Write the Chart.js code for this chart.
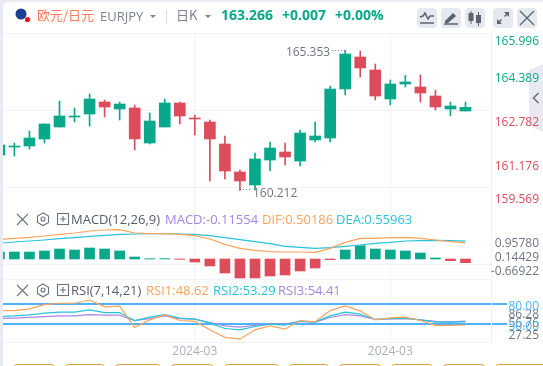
<!DOCTYPE html>
<html><head><meta charset="utf-8">
<script src="https://cdn.jsdelivr.net/npm/chart.js@4/dist/chart.umd.min.js"></script>
<style>
html,body{margin:0;padding:0;background:#e8ebf1;overflow:hidden}
#card{position:absolute;left:3px;top:2px;width:540px;height:364px;background:#fff;border-top-left-radius:5px}
#stage{position:absolute;left:0;top:0;width:543px;height:366px;font-family:"Open Sans","Noto Sans CJK SC",sans-serif}
canvas{position:absolute;left:0;top:0}
.t{position:absolute;white-space:nowrap;line-height:18px;height:18px;font-size:13px}
.btn{position:absolute;top:8px;width:20px;height:20px;background:#e6e8ef;border-radius:4px}
.btn svg,.ic{position:absolute;left:0;top:0}
.tab{position:absolute;top:364px;height:6px;box-sizing:border-box;border:1px solid #dda040;border-radius:4px 4px 0 0;background:#fff}
</style></head><body>
<div id="card"></div>
<div id="stage">
<svg class="ic" width="543" height="140"><path d="M529 70L543 64V132L529 126z" fill="#e9eaf1"/><path d="M538.500 93l-5 5 5 5" fill="none" stroke="#6c7280" stroke-width="1.600"/></svg>
<canvas id="c" width="543" height="366"></canvas>
<svg class="ic" width="32" height="26"><circle cx="21" cy="14" r="5.5" fill="#1c3f94"/><circle cx="27.5" cy="19.5" r="2.6" fill="#f0141e"/></svg>
<div class="t" style="left:37px;top:6px;color:#fb7d5b;font-family:'Noto Sans CJK SC'">欧元/日元</div>
<div class="t" style="left:100px;top:7px;color:#7c8294">EURJPY</div>
<svg class="ic" width="220" height="30"><path d="M150 15h6l-3 3z M205 15h6l-3 3z" fill="#7c8294"/><path d="M166.500 10v13" stroke="#d5d7de"/></svg>
<div class="t" style="left:176px;top:6px;color:#7c8294;font-family:'Noto Sans CJK SC'">日K</div>
<div class="t" style="left:221px;top:6px;color:#0aa88a;font-weight:700;font-size:14px">163.266</div>
<div class="t" style="left:282px;top:6px;color:#0aa88a;font-weight:700;font-size:14px">+0.007</div>
<div class="t" style="left:335px;top:6px;color:#0aa88a;font-weight:700;font-size:14px">+0.00%</div>
<div class="btn" style="left:417px"><svg width="20" height="20" fill="none" stroke="#5c6270" stroke-width="1.500"><path d="M3 9l3-1 2-3 3 6 2-3h4"/><path d="M3 15h14"/></svg></div>
<div class="btn" style="left:441px"><svg width="20" height="20"><path d="M4 13l8-8 3 3-8 7H4z" fill="#5c6270"/><path d="M3 16h14" stroke="#5c6270" stroke-width="1.500"/></svg></div>
<div class="btn" style="left:465px"><svg width="20" height="20" fill="#5c6270"><rect x="3.500" y="5" width="5" height="8"/><rect x="11" y="7" width="5" height="8"/><path d="M5.500 3h1v13h-1zM13 4h1v14h-1z"/></svg></div>
<div class="btn" style="left:493px"><svg width="20" height="20" fill="#5c6270"><path d="M11 4h5v5l-2-2-2 2-1-1 2-2zM9 16H4v-5l2 2 2-2 1 1-2 2z"/></svg></div>
<div class="btn" style="left:517px"><svg width="20" height="20" stroke="#5c6270" stroke-width="1.300"><path d="M3 3l14 14M17 3L3 17"/></svg></div>

<svg class="ic" width="80" height="300"><g fill="none" stroke="#6c7280" stroke-width="1.100">
<path d="M17 214l11 11M28 214l-11 11"/><path d="M43 212.800l5.500 3.200v6.400l-5.500 3.200-5.500-3.200v-6.400z"/><circle cx="43" cy="219" r="2"/><rect x="57.500" y="213.500" width="11" height="11"/><path d="M60 219h6M63 216v6"/>
<path d="M17 285l11 11M28 285l-11 11"/><path d="M43 284l5.500 3.200v6.400l-5.500 3.200-5.500-3.200v-6.400z"/><circle cx="43" cy="290" r="2"/><rect x="57.500" y="284.500" width="11" height="11"/><path d="M60 290h6M63 287v6"/></g></svg>
<div class="t" style="left:71px;top:210px;color:#555b6b">MACD(12,26,9)</div>
<div class="t" style="left:165px;top:210px;color:#a486e6">MACD:-0.11554</div>
<div class="t" style="left:262px;top:210px;color:#f9a45c">DIF:0.50186</div>
<div class="t" style="left:336px;top:210px;color:#27c3d8">DEA:0.55963</div>
<div class="t" style="left:71px;top:281px;color:#555b6b">RSI(7,14,21)</div>
<div class="t" style="left:146px;top:281px;color:#f9a45c">RSI1:48.62</div>
<div class="t" style="left:213px;top:281px;color:#27c3d8">RSI2:53.29</div>
<div class="t" style="left:278px;top:281px;color:#a486e6">RSI3:54.41</div>
<div class="tab" style="left:13px;width:42px"></div><div class="tab" style="left:65px;width:40px"></div>
<div class="tab" style="left:115px;width:46px"></div><div class="tab" style="left:171px;width:43px"></div>
<div class="tab" style="left:224px;width:55px"></div><div class="tab" style="left:289px;width:40px"></div>
<div class="tab" style="left:339px;width:42px"></div><div class="tab" style="left:391px;width:42px"></div>
<div class="tab" style="left:443px;width:42px"></div><div class="tab" style="left:495px;width:60px"></div>
</div>
<script>
const open_=[161.515,161.809,161.846,162.103,162.544,162.911,163.021,163.462,163.205,163.242,161.956,162.544,163.425,162.874,162.727,161.919,160.891,160.414,161.332,161.626,161.295,162.066,162.140,163.939,165.115,164.637,163.572,164.123,164.013,163.682,163.205,163.131];
const close_=[161.883,161.846,162.140,162.654,162.948,162.948,163.572,163.278,163.388,162.103,162.764,163.425,162.948,162.838,162.103,160.928,160.561,161.369,161.773,161.442,162.323,162.213,163.939,165.225,164.711,163.682,164.123,164.196,163.792,163.278,163.315,163.266];
const high_=[161.956,161.956,162.397,162.654,163.499,163.242,163.756,163.535,163.462,163.352,163.058,163.572,163.462,162.984,162.801,162.213,160.965,161.589,161.993,161.956,162.434,162.727,164.050,165.353,165.330,164.857,164.270,164.437,164.454,163.903,163.462,163.462];
const low_=[161.442,161.479,161.736,161.956,162.544,162.727,162.580,162.911,162.801,161.699,161.919,162.544,162.654,162.250,160.561,160.634,160.212,160.230,160.928,161.148,161.111,161.993,161.993,163.719,164.380,163.535,163.352,164.013,163.462,163.168,162.948,163.131];
const macdBars=[.218,.218,.218,.250,.312,.281,.343,.312,.250,.062,.010,.010,-.010,-.094,-.218,-.437,-.593,-.593,-.530,-.499,-.374,-.281,-.021,.281,.416,.312,.281,.250,.187,.031,-.052,-.11554];
const dif=[.614,.645,.676,.718,.770,.811,.874,.905,.915,.811,.790,.790,.770,.728,.624,.458,.333,.270,.229,.218,.218,.208,.333,.520,.645,.645,.666,.676,.645,.593,.541,.50186];
const dea=[.489,.530,.562,.593,.634,.666,.707,.738,.770,.780,.790,.790,.780,.770,.728,.666,.603,.541,.478,.395,.364,.333,.354,.395,.437,.489,.520,.562,.572,.582,.572,.55963];
const rsi1=[70.4,70.4,73,79.4,81.4,81.4,86.28,76,77,45,56.4,64,55.4,54,41.4,30,27.25,41.4,47.4,42.4,55.4,53.4,70.4,77.4,70,56.4,59.4,60.4,55.4,48,48,48.62];
const rsi2=[61.4,62.4,64,66.4,68,68,71.4,67.4,67.4,55.4,60.4,64.4,59,57.4,51.4,43.4,41.4,46.4,50,48.4,54.4,53,62.4,68,65,57,58.4,59,56.4,53,53,53.29];
const rsi3=[58.4,59,60,61.4,62.4,62.4,64.4,63.4,63.4,55.4,58.4,62.4,58.4,57.4,52.4,47.4,45.4,48,50.4,50,54,53,60,64.4,62.4,57,58,58.4,56.4,54,53.4,54.41];
const dateLabels=['2024-03','2024-03'];
const dateAt=[13,26];
const priceLabels=['165.996','164.389','162.782','161.176','159.569'];
const priceGrid=[165.996,164.389,162.782,161.176,159.569];
const priceLabelAt=[165.739,164.389,162.782,161.176,159.936];
const macdLabels=['0.95780','0.14429','-0.66922'];
const macdLabelAt=[.54,.103,-.343];
const rsiLabels=['86.28','56.76','27.25','80.00','50.00'];
const rsiLabelAt=[67.4,53.9,35,80,50];

const GREEN='#0aa88a',RED='#dc4c5a',GRID='#f2f3f7',TXT='#6f7484',BLUE='#4db2fb',FONT='"Open Sans",sans-serif';
const up=i=>close_[i]>=open_[i];
const idx=open_.map((_,i)=>i);
const col=c=>c.dataIndex===undefined?GREEN:(up(c.dataIndex)?GREEN:RED);
const barBase={grouped:false,yAxisID:'y',xAxisID:'x',borderWidth:0};
const lineBase={type:'line',order:1,borderWidth:1.2,pointRadius:0};
const datasets=[
 {...barBase,type:'bar',label:'Body',order:2,barThickness:11,backgroundColor:col,data:idx.map(i=>({x:i,y:[open_[i],close_[i]]}))},
 {...barBase,type:'bar',label:'Wick',order:3,barThickness:1,backgroundColor:col,data:idx.map(i=>({x:i,y:[low_[i],high_[i]]}))},
 {...barBase,type:'bar',label:'MACD',order:3,yAxisID:'yMacd',barThickness:10,backgroundColor:c=>macdBars[c.dataIndex]>=0?GREEN:RED,data:idx.map(i=>({x:i,y:macdBars[i]}))},
 {...lineBase,label:'DIF',yAxisID:'yMacd',borderColor:'#f9a45c',data:idx.map(i=>({x:i,y:dif[i]}))},
 {...lineBase,label:'DEA',yAxisID:'yMacd',borderColor:'#27c3d8',data:idx.map(i=>({x:i,y:dea[i]}))},
 {...lineBase,label:'RSI1',yAxisID:'yRsi',borderColor:'#f9a45c',data:idx.map(i=>({x:i,y:rsi1[i]}))},
 {...lineBase,label:'RSI2',yAxisID:'yRsi',borderColor:'#27c3d8',data:idx.map(i=>({x:i,y:rsi2[i]}))},
 {...lineBase,label:'RSI3',yAxisID:'yRsi',borderColor:'#a888e8',data:idx.map(i=>({x:i,y:rsi3[i]}))}
];
const setTicks=arr=>s=>{s.ticks=arr.map(v=>({value:v}));};
const fit48=s=>{s.width=48;};
const common={axis:'y',position:'right',stack:'panels',afterFit:fit48,border:{display:true,color:GRID}};
const tickBase={autoSkip:false,crossAlign:'far',labelOffset:2,font:{family:FONT,size:12}};

const hiLo={id:'hiLo',afterDatasetsDraw(ch){
  const g=ch.ctx,x=ch.scales.x,y=ch.scales.y;
  const hi=high_.indexOf(Math.max(...high_)),lo=low_.indexOf(Math.min(...low_));
  g.save();g.font='12px '+FONT;g.fillStyle=g.strokeStyle=TXT;g.textBaseline='middle';g.lineWidth=1;g.setLineDash([1,2]);
  const hx=x.getPixelForValue(hi),hy=y.getPixelForValue(high_[hi])-1;
  g.beginPath();g.moveTo(hx,Math.round(hy)+.5);g.lineTo(hx-14,Math.round(hy)+.5);g.stroke();
  g.textAlign='right';g.fillText(high_[hi].toFixed(3),hx-15,hy+3);
  const lx=x.getPixelForValue(lo),ly=y.getPixelForValue(low_[lo])-1;
  g.beginPath();g.moveTo(lx,Math.round(ly)+.5);g.lineTo(lx+11,Math.round(ly)+.5);g.stroke();
  g.textAlign='left';g.fillText(low_[lo].toFixed(3),lx+13,ly+4);
  g.restore();
}};

new Chart(document.getElementById('c'),{
 data:{datasets},
 plugins:[hiLo],
 options:{
  responsive:false,animation:false,events:[],
  layout:{padding:{left:3,top:33,right:4,bottom:0}},
  plugins:{legend:{display:false},tooltip:{enabled:false},title:{display:false}},
  scales:{
   x:{type:'linear',position:'bottom',offset:false,min:0.2427,max:32.696,afterBuildTicks:setTicks(dateAt),afterFit:s=>{s.height=24;},
      border:{display:true,color:GRID},grid:{color:GRID,drawTicks:false,offset:false},
      ticks:{autoSkip:false,maxRotation:0,color:'#aaaebf',font:{family:FONT,size:12},padding:2,callback:(v,i)=>dateLabels[i]}},
   y:{...common,stackWeight:175,min:159.569,max:165.996,
      afterBuildTicks:setTicks(priceLabelAt),
      grid:{display:false,drawTicks:false},
      ticks:{...tickBase,padding:4,color:c=>c.index<2?GREEN:RED,callback:(v,i)=>priceLabels[i]}},
   yGrid:{axis:'y',position:'left',display:true,min:159.569,max:165.996,stack:'grid',afterFit:s=>{s.width=0;},
      afterBuildTicks:setTicks(priceGrid),border:{display:false},
      grid:{color:GRID,drawTicks:false},ticks:{display:false}},
   yMacd:{...common,stackWeight:71,min:-0.624,max:1.591,
      afterBuildTicks:setTicks(macdLabelAt.concat([-0.624])),
      grid:{color:c=>c.index===3?GRID:'transparent',drawTicks:false},
      ticks:{...tickBase,padding:-1,color:TXT,callback:(v,i)=>macdLabels[i]||''}},
   yRsi:{...common,stackWeight:63,min:23.05,max:117.95,
      afterBuildTicks:setTicks(rsiLabelAt),
      grid:{color:c=>c.index>=3?BLUE:'transparent',tickColor:c=>c.index>=3?BLUE:'transparent',lineWidth:2,drawTicks:true,tickLength:16},
      ticks:{...tickBase,padding:2,color:c=>c.index>=3?BLUE:TXT,callback:(v,i)=>rsiLabels[i]}}
  }
 }
});
</script>
</body></html>
